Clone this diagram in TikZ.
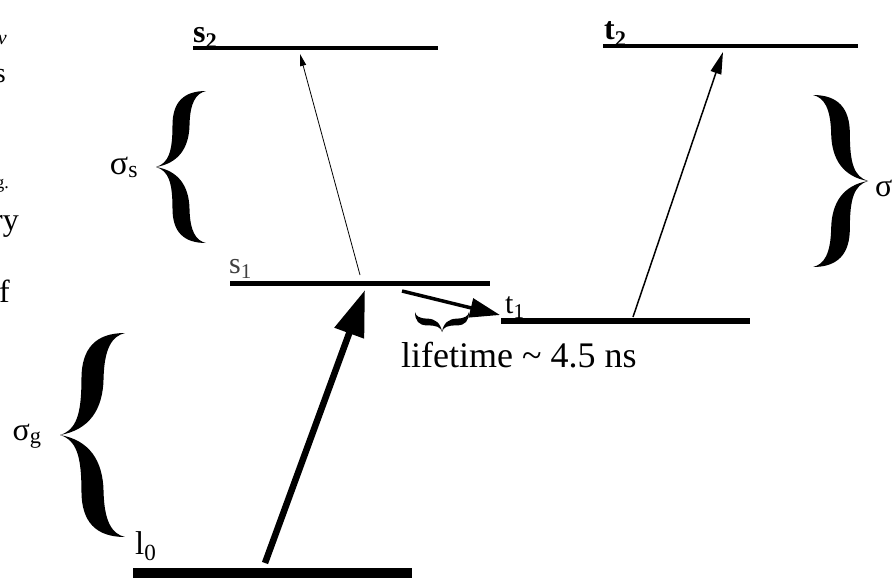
\documentclass[tikz,border=0pt]{standalone}
\usepackage{fontspec}
\setmainfont{Liberation Serif}
\usetikzlibrary{arrows.meta}
\tikzset{
  fatbrace/.pic={
    \foreach \s in {1,-1}
      \fill[yscale=\s] (1,1) .. controls (0.55,1) and (0.33,0.85) .. (0.33,0.55)
        .. controls (0.33,0.2) and (0.25,0.05) .. (0,0)
        .. controls (0.45,0.05) and (0.66,0.25) .. (0.67,0.55)
        .. controls (0.68,0.85) and (0.8,0.97) .. (1,1) -- cycle;
  },
  lvl/.style={line cap=butt},
  fs/.style={font=\fontsize{#1}{#1}\selectfont}
}
\begin{document}
\begin{tikzpicture}[x=1pt,y=-1pt]
  \useasboundingbox (0,0) rectangle (893,578);
  % Levels
  \draw[lvl,line width=4pt] (193,48) -- (438,48);
  \draw[lvl,line width=4pt] (603,46) -- (858,46);
  \draw[lvl,line width=5pt] (230,283) -- (490,283);
  \draw[lvl,line width=5.5pt] (501,321) -- (750,321);
  \draw[lvl,line width=10pt] (133,573) -- (412,573);
  \node[fs=32,anchor=base west,inner sep=0] (s2) at (193,42) {\textbf{s\textsubscript{2}}};
  \node[fs=32,anchor=base west,inner sep=0] (t2) at (604,40) {\textbf{t\textsubscript{2}}};
  \node[fs=30,anchor=base west,inner sep=0,black!75] (s1) at (229,273) {s\textsubscript{1}};
  \node[fs=30,anchor=base west,inner sep=0] (t1) at (505,313) {t\textsubscript{1}};
  \node[fs=33,anchor=base west,inner sep=0] (l0) at (135,554) {l\textsubscript{0}};
  % Transitions
  \coordinate (g0) at (265,563);
  \coordinate (g1) at (365,290);
  \coordinate (sa) at (360,275);
  \coordinate (sb) at (300,54);
  \coordinate (ta) at (633,317);
  \coordinate (tb) at (723,52);
  \coordinate (ia) at (402,291);
  \coordinate (ib) at (500,315);
  \draw[line width=6.5pt,-{Triangle[length=46pt,width=30pt]}] (g0) -- (g1);
  \draw[line width=0.8pt,-{Triangle[length=12pt,width=6pt]}] (sa) -- (sb);
  \draw[line width=1.5pt,-{Triangle[length=22pt,width=11pt]}] (ta) -- (tb);
  \draw[line width=3.5pt,-{Triangle[length=30pt,width=19pt]}] (ia) -- (ib);
  % Cross sections
  \pic[xscale=50,yscale=76] at (156,167) {fatbrace};
  \pic[xscale=65,yscale=102] at (60,435) {fatbrace};
  \pic[xscale=-55,yscale=86] at (868,181) {fatbrace};
  \pic[rotate=90,xscale=20,yscale=27] at (442,332) {fatbrace};
  \node[fs=34,anchor=base,inner sep=0] (sigs) at (124,174) {σ\textsubscript{s}};
  \node[fs=32,anchor=base,inner sep=0] (sigg) at (27,440) {σ\textsubscript{g}};
  \node[fs=32,anchor=base west,inner sep=0] (sigt) at (875,196) {σ};
  \node[fs=36,anchor=base west,inner sep=0] (life) at (401,367) {lifetime \textasciitilde{} 4.5 ns};
  % Cut-off text at the left edge
  \node[fs=20,anchor=base east,inner sep=0] (frv) at (7,45) {\itshape v};
  \node[fs=28,anchor=base east,inner sep=0] (frs) at (6,82) {s};
  \node[fs=18,anchor=base east,inner sep=0] (frg) at (9,188) {g.};
  \node[fs=32,anchor=base east,inner sep=0] (frr) at (19,230) {ry};
  \node[fs=32,anchor=base east,inner sep=0] (frf) at (10,302) {f};
\end{tikzpicture}
\end{document}
